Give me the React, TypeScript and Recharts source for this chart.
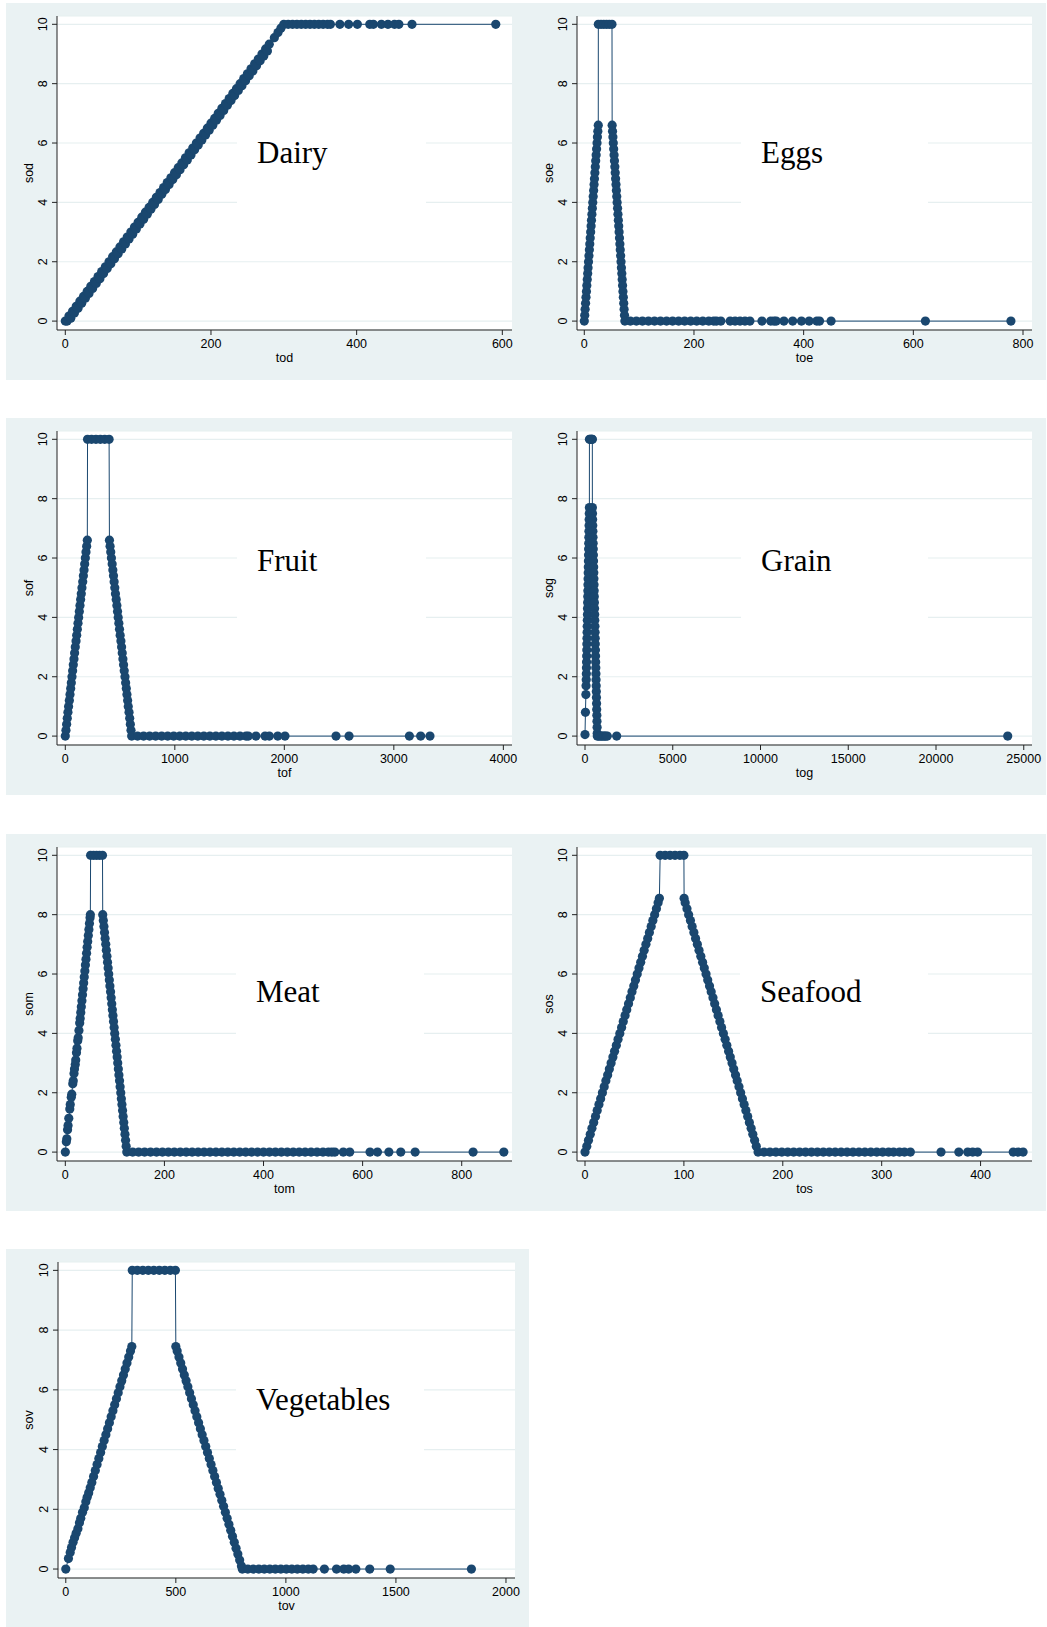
import React from 'react';
import { ScatterChart, Scatter, XAxis, YAxis, CartesianGrid, ReferenceArea } from 'recharts';

const NAVY = '#1a476f';
const PANEL_BG = '#eaf2f3';
const SANS = "'Liberation Sans', Arial, Helvetica, sans-serif";
const SERIF = "'Liberation Serif', 'Times New Roman', serif";

// [x, y] pairs (tod/sod, toe/soe, ...)
const dairyPoints: [number, number][] = [
  [0, 0], [2.5, 0], [5, 0.17], [7.5, 0.1], [10, 0.33], [12.5, 0.27], [15, 0.5], [17.5, 0.43], [20, 0.67], [22.5, 0.6],
  [25, 0.83], [27.5, 0.77], [30, 1], [32.5, 0.93], [35, 1.17], [37.5, 1.1], [40, 1.33], [42.5, 1.27], [45, 1.5], [47.5, 1.43],
  [50, 1.67], [52.5, 1.6], [55, 1.83], [57.5, 1.77], [60, 2], [62.5, 1.93], [65, 2.17], [67.5, 2.1], [70, 2.33], [72.5, 2.27],
  [75, 2.5], [77.5, 2.43], [80, 2.67], [82.5, 2.6], [85, 2.83], [87.5, 2.77], [90, 3], [92.5, 2.93], [95, 3.17], [97.5, 3.1],
  [100, 3.33], [102.5, 3.27], [105, 3.5], [107.5, 3.43], [110, 3.67], [112.5, 3.6], [115, 3.83], [117.5, 3.77], [120, 4], [122.5, 3.93],
  [125, 4.17], [127.5, 4.1], [130, 4.33], [132.5, 4.27], [135, 4.5], [137.5, 4.43], [140, 4.67], [142.5, 4.6], [145, 4.83], [147.5, 4.77],
  [150, 5], [152.5, 4.93], [155, 5.17], [157.5, 5.1], [160, 5.33], [162.5, 5.27], [165, 5.5], [167.5, 5.43], [170, 5.67], [172.5, 5.6],
  [175, 5.83], [177.5, 5.77], [180, 6], [182.5, 5.93], [185, 6.17], [187.5, 6.1], [190, 6.33], [192.5, 6.27], [195, 6.5], [197.5, 6.43],
  [200, 6.67], [202.5, 6.6], [205, 6.83], [207.5, 6.77], [210, 7], [212.5, 6.93], [215, 7.17], [217.5, 7.1], [220, 7.33], [222.5, 7.27],
  [225, 7.5], [227.5, 7.43], [230, 7.67], [232.5, 7.6], [235, 7.83], [237.5, 7.77], [240, 8], [242.5, 7.93], [245, 8.17], [247.5, 8.1],
  [250, 8.33], [252.5, 8.27], [255, 8.5], [257.5, 8.43], [260, 8.67], [262.5, 8.6], [265, 8.83], [267.5, 8.77], [270, 9], [272.5, 8.93],
  [275, 9.17], [277.5, 9.1], [280, 9.33], [287, 9.55], [292, 9.72], [296, 9.87],
  [300, 10], [306, 10], [312, 10], [318, 10], [324, 10], [330, 10], [336, 10], [342, 10], [348, 10], [354, 10], [360, 10], [364, 10],
  [377, 10], [389, 10], [401, 10], [418, 10], [423, 10], [434, 10], [443, 10], [452, 10], [458, 10], [476, 10], [591, 10],
];

const eggsPoints: [number, number][] = [
  [0, 0], [0.8, 0.2], [1.5, 0.4], [2.3, 0.6], [3.1, 0.8], [3.9, 1], [4.6, 1.2], [5.4, 1.4], [6.2, 1.6], [6.9, 1.8],
  [7.7, 2], [8.5, 2.2], [9.3, 2.4], [10, 2.6], [10.8, 2.8], [11.6, 3], [12.4, 3.2], [13.1, 3.4], [13.9, 3.6], [14.7, 3.8],
  [15.4, 4], [16.2, 4.2], [17, 4.4], [17.8, 4.6], [18.5, 4.8], [19.3, 5], [20.1, 5.2], [20.8, 5.4], [21.6, 5.6], [22.4, 5.8],
  [23.2, 6], [23.9, 6.2], [24.7, 6.4], [25.5, 6.6],
  [25.6, 10], [30.5, 10], [35.5, 10], [40.5, 10], [45.5, 10], [50.5, 10],
  [50.8, 6.6], [51.5, 6.4], [52.2, 6.2], [52.9, 6], [53.6, 5.8], [54.3, 5.6], [55, 5.4], [55.7, 5.2], [56.4, 5], [57.1, 4.8],
  [57.8, 4.6], [58.5, 4.4], [59.2, 4.2], [59.9, 4], [60.7, 3.8], [61.4, 3.6], [62.1, 3.4], [62.8, 3.2], [63.5, 3], [64.2, 2.8],
  [64.9, 2.6], [65.6, 2.4], [66.3, 2.2], [67, 2], [67.7, 1.8], [68.4, 1.6], [69.1, 1.4], [69.8, 1.2], [70.5, 1], [71.2, 0.8],
  [71.9, 0.6], [72.6, 0.4], [73.3, 0.2], [74, 0],
  [84, 0], [95, 0], [106, 0], [117, 0], [128, 0], [139, 0], [150, 0], [161, 0], [172, 0], [183, 0], [194, 0], [205, 0],
  [216, 0], [227, 0], [236, 0], [241, 0], [249, 0], [266, 0], [275, 0], [284, 0], [293, 0], [302, 0], [324, 0], [340, 0],
  [346, 0], [350, 0], [364, 0], [380, 0], [396, 0], [410, 0], [424, 0], [429, 0], [450, 0], [622, 0], [778, 0],
];

const fruitPoints: [number, number][] = [
  [0, 0], [6, 0.2], [12, 0.4], [18, 0.6], [24, 0.8], [30, 1], [37, 1.2], [43, 1.4], [49, 1.6], [55, 1.8],
  [61, 2], [67, 2.2], [73, 2.4], [79, 2.6], [85, 2.8], [91, 3], [98, 3.2], [104, 3.4], [110, 3.6], [116, 3.8],
  [122, 4], [128, 4.2], [134, 4.4], [140, 4.6], [146, 4.8], [152, 5], [159, 5.2], [165, 5.4], [171, 5.6], [177, 5.8],
  [183, 6], [189, 6.2], [195, 6.4], [201, 6.6],
  [203, 10], [240, 10], [280, 10], [320, 10], [360, 10], [400, 10],
  [403, 6.6], [409, 6.4], [415, 6.2], [421, 6], [428, 5.8], [434, 5.6], [440, 5.4], [446, 5.2], [452, 5], [458, 4.8],
  [465, 4.6], [471, 4.4], [477, 4.2], [483, 4], [489, 3.8], [495, 3.6], [501, 3.4], [508, 3.2], [514, 3], [520, 2.8],
  [526, 2.6], [532, 2.4], [538, 2.2], [545, 2], [551, 1.8], [557, 1.6], [563, 1.4], [569, 1.2], [575, 1], [582, 0.8],
  [588, 0.6], [594, 0.4], [600, 0.2], [606, 0],
  [660, 0], [715, 0], [770, 0], [825, 0], [880, 0], [935, 0], [990, 0], [1045, 0], [1100, 0], [1155, 0], [1210, 0],
  [1265, 0], [1320, 0], [1375, 0], [1430, 0], [1485, 0], [1540, 0], [1595, 0], [1650, 0], [1671, 0], [1741, 0],
  [1824, 0], [1863, 0], [1940, 0], [2006, 0], [2472, 0], [2591, 0], [3142, 0], [3245, 0], [3330, 0],
];

const grainPoints: [number, number][] = [
  [0, 0.05], [25, 0.8], [50, 1.4], [60, 1.7], [70, 1.9], [76, 2.1], [82, 2.3], [89, 2.5], [95, 2.7], [101, 2.9],
  [107, 3.1], [113, 3.3], [120, 3.5], [126, 3.7], [132, 3.9], [138, 4.1], [144, 4.3], [151, 4.5], [157, 4.7], [163, 4.9],
  [169, 5.1], [175, 5.3], [182, 5.5], [188, 5.7], [194, 5.9], [200, 6.1], [206, 6.3], [213, 6.5], [219, 6.7], [225, 6.9],
  [231, 7.1], [237, 7.3], [244, 7.5], [250, 7.7],
  [252, 10], [300, 10], [350, 10], [400, 10], [418, 10],
  [420, 7.7], [427, 7.5], [435, 7.3], [442, 7.1], [449, 6.9], [456, 6.7], [464, 6.5], [471, 6.3], [478, 6.1], [486, 5.9],
  [493, 5.7], [500, 5.5], [507, 5.3], [515, 5.1], [522, 4.9], [529, 4.7], [536, 4.5], [544, 4.3], [551, 4.1], [558, 3.9],
  [566, 3.7], [573, 3.5], [580, 3.3], [587, 3.1], [595, 2.9], [602, 2.7], [609, 2.5], [616, 2.3], [624, 2.1], [631, 1.9],
  [638, 1.7], [646, 1.5], [653, 1.3], [660, 1.1], [667, 0.9], [675, 0.7], [682, 0.5], [689, 0.3], [696, 0.1], [700, 0],
  [780, 0], [860, 0], [940, 0], [1020, 0], [1100, 0], [1180, 0], [1270, 0], [1805, 0], [24086, 0],
];

const meatPoints: [number, number][] = [
  [0, 0], [2, 0.35], [3, 0.45], [4.5, 0.75], [5.5, 0.9], [7, 1.14], [9, 1.45], [10, 1.6], [12, 1.85], [13, 1.95],
  [15, 2.3], [16, 2.4], [17.5, 2.65], [18.5, 2.8], [20, 2.95], [21, 3.1], [22.5, 3.35], [23.5, 3.5], [25, 3.75], [26, 3.85],
  [27.5, 4.1], [29, 4.35], [30, 4.5], [31.2, 4.7], [32.3, 4.9], [33.5, 5.1], [34.7, 5.3], [35.9, 5.5], [37, 5.7], [38.2, 5.9],
  [39.4, 6.1], [40.5, 6.3], [41.7, 6.5], [42.9, 6.7], [44, 6.9], [45.2, 7.1], [46.4, 7.3], [47.6, 7.5], [48.7, 7.7], [49.9, 7.9],
  [50.5, 8],
  [51, 10], [57, 10], [63, 10], [69, 10], [75, 10],
  [75.5, 8], [76.7, 7.8], [77.9, 7.6], [79.1, 7.4], [80.3, 7.2], [81.6, 7], [82.8, 6.8], [84, 6.6], [85.2, 6.4], [86.4, 6.2],
  [87.6, 6], [88.8, 5.8], [90, 5.6], [91.3, 5.4], [92.5, 5.2], [93.7, 5], [94.9, 4.8], [96.1, 4.6], [97.3, 4.4], [98.5, 4.2],
  [99.7, 4], [101, 3.8], [102.2, 3.6], [103.4, 3.4], [104.6, 3.2], [105.8, 3], [107, 2.8], [108.2, 2.6], [109.4, 2.4], [110.6, 2.2],
  [111.9, 2], [113.1, 1.8], [114.3, 1.6], [115.5, 1.4], [116.7, 1.2], [117.9, 1], [119.1, 0.8], [120.4, 0.6], [121.6, 0.4], [122.8, 0.2],
  [124, 0],
  [136, 0], [148, 0], [160, 0], [172, 0], [184, 0], [196, 0], [208, 0], [220, 0], [232, 0], [244, 0], [256, 0], [268, 0],
  [280, 0], [292, 0], [304, 0], [316, 0], [328, 0], [340, 0], [352, 0], [364, 0], [376, 0], [388, 0], [400, 0], [412, 0],
  [424, 0], [436, 0], [448, 0], [460, 0], [472, 0], [484, 0], [496, 0], [508, 0], [520, 0], [531, 0], [538, 0], [544, 0],
  [561, 0], [574, 0], [615, 0], [630, 0], [653, 0], [677, 0], [706, 0], [823, 0], [885, 0],
];

const seafoodPoints: [number, number][] = [
  [0, 0], [1.8, 0.2], [3.5, 0.4], [5.3, 0.6], [7, 0.8], [8.8, 1], [10.6, 1.2], [12.3, 1.4], [14.1, 1.6], [15.8, 1.8],
  [17.6, 2], [19.4, 2.2], [21.1, 2.4], [22.9, 2.6], [24.6, 2.8], [26.4, 3], [28.2, 3.2], [29.9, 3.4], [31.7, 3.6], [33.4, 3.8],
  [35.2, 4], [37, 4.2], [38.7, 4.4], [40.5, 4.6], [42.2, 4.8], [44, 5], [45.8, 5.2], [47.5, 5.4], [49.3, 5.6], [51, 5.8],
  [52.8, 6], [54.6, 6.2], [56.3, 6.4], [58.1, 6.6], [59.8, 6.8], [61.6, 7], [63.4, 7.2], [65.1, 7.4], [66.9, 7.6], [68.6, 7.8],
  [70.4, 8], [72.2, 8.2], [73.9, 8.4], [75.2, 8.55],
  [76, 10], [81, 10], [86, 10], [91, 10], [96, 10], [100, 10],
  [100.2, 8.55], [101.3, 8.4], [103.1, 8.2], [104.8, 8], [106.6, 7.8], [108.3, 7.6], [110.1, 7.4], [111.8, 7.2], [113.6, 7], [115.3, 6.8],
  [117.1, 6.6], [118.9, 6.4], [120.6, 6.2], [122.4, 6], [124.1, 5.8], [125.9, 5.6], [127.6, 5.4], [129.4, 5.2], [131.1, 5], [132.9, 4.8],
  [134.6, 4.6], [136.4, 4.4], [138.1, 4.2], [139.9, 4], [141.7, 3.8], [143.4, 3.6], [145.2, 3.4], [146.9, 3.2], [148.7, 3], [150.4, 2.8],
  [152.2, 2.6], [153.9, 2.4], [155.7, 2.2], [157.4, 2], [159.2, 1.8], [160.9, 1.6], [162.7, 1.4], [164.5, 1.2], [166.2, 1], [168, 0.8],
  [169.7, 0.6], [171.5, 0.4], [173.2, 0.2], [175, 0],
  [181, 0], [187, 0], [193, 0], [199, 0], [205, 0], [211, 0], [217, 0], [223, 0], [229, 0], [235, 0], [241, 0], [247, 0],
  [253, 0], [259, 0], [265, 0], [271, 0], [277, 0], [283, 0], [289, 0], [295, 0], [301, 0], [307, 0], [312, 0], [318, 0],
  [323, 0], [329, 0], [360, 0], [378, 0], [387, 0], [392, 0], [397, 0], [433, 0], [438, 0], [443, 0],
];

const vegetablesPoints: [number, number][] = [
  [0, 0], [12, 0.35], [20, 0.55], [26, 0.72], [33, 0.9], [40, 1.05], [47, 1.2], [55, 1.35], [62, 1.55], [68, 1.7],
  [76, 1.9], [84, 2.05], [91, 2.25], [97, 2.4], [104, 2.55], [111, 2.72], [118.2, 2.9], [126.2, 3.1], [134.2, 3.3], [142.2, 3.5],
  [150.2, 3.7], [158.2, 3.9], [166.1, 4.1], [174.1, 4.3], [182.1, 4.5], [190.1, 4.7], [198.1, 4.9], [206.1, 5.1], [214.1, 5.3], [222.1, 5.5],
  [230.1, 5.7], [238.1, 5.9], [246.1, 6.1], [254.1, 6.3], [262, 6.5], [270, 6.7], [278, 6.9], [286, 7.1], [294, 7.3], [300, 7.45],
  [302, 10], [325, 10], [350, 10], [375, 10], [400, 10], [425, 10], [450, 10], [475, 10], [498, 10],
  [500, 7.45], [506.1, 7.3], [514.2, 7.1], [522.3, 6.9], [530.4, 6.7], [538.5, 6.5], [546.6, 6.3], [554.7, 6.1], [562.8, 5.9], [570.9, 5.7],
  [579.1, 5.5], [587.2, 5.3], [595.3, 5.1], [603.4, 4.9], [611.5, 4.7], [619.6, 4.5], [627.7, 4.3], [635.8, 4.1], [643.9, 3.9], [652, 3.7],
  [660.1, 3.5], [668.2, 3.3], [676.3, 3.1], [684.5, 2.9], [692.6, 2.7], [700.7, 2.5], [708.8, 2.3], [716.9, 2.1], [725, 1.9], [733.1, 1.7],
  [741.2, 1.5], [749.3, 1.3], [757.4, 1.1], [765.5, 0.9], [773.6, 0.7], [781.7, 0.5], [789.9, 0.3], [798, 0.1], [802, 0],
  [827, 0], [852, 0], [877, 0], [902, 0], [927, 0], [952, 0], [977, 0], [1002, 0], [1027, 0], [1052, 0], [1077, 0],
  [1102, 0], [1124, 0], [1175, 0], [1230, 0], [1263, 0], [1285, 0], [1318, 0], [1381, 0], [1474, 0], [1843, 0],
];

const yTicks = [0, 2, 4, 6, 8, 10];
const dairyTicks = [0, 200, 400, 600];
const eggsTicks = [0, 200, 400, 600, 800];
const fruitTicks = [0, 1000, 2000, 3000, 4000];
const grainTicks = [0, 5000, 10000, 15000, 20000, 25000];
const meatTicks = [0, 200, 400, 600, 800];
const seafoodTicks = [0, 100, 200, 300, 400];
const vegetablesTicks = [0, 500, 1000, 1500, 2000];

const Y_DOMAIN: [number, number] = [-0.3, 10.28];

const panels = [
  { name: 'Dairy', xLabel: 'tod', yLabel: 'sod', points: dairyPoints, xTicks: dairyTicks, xDomain: [-11.4, 613.3], left: 6, top: 3, width: 520, height: 377, axisW: 51, right: 14, boxLeft: 180, boxRight: 369, labelY: 5.32 },
  { name: 'Eggs', xLabel: 'toe', yLabel: 'soe', points: eggsPoints, xTicks: eggsTicks, xDomain: [-13.3, 816.4], left: 526, top: 3, width: 520, height: 377, axisW: 51, right: 14, boxLeft: 164, boxRight: 351, labelY: 5.32 },
  { name: 'Fruit', xLabel: 'tof', yLabel: 'sof', points: fruitPoints, xTicks: fruitTicks, xDomain: [-75.8, 4079], left: 6, top: 418, width: 520, height: 377, axisW: 51, right: 14, boxLeft: 180, boxRight: 369, labelY: 5.56 },
  { name: 'Grain', xLabel: 'tog', yLabel: 'sog', points: grainPoints, xTicks: grainTicks, xDomain: [-456, 25470], left: 526, top: 418, width: 520, height: 377, axisW: 51, right: 14, boxLeft: 164, boxRight: 351, labelY: 5.56 },
  { name: 'Meat', xLabel: 'tom', yLabel: 'som', points: meatPoints, xTicks: meatTicks, xDomain: [-16.8, 901.5], left: 6, top: 834, width: 520, height: 377, axisW: 51, right: 14, boxLeft: 179, boxRight: 367, labelY: 5.05 },
  { name: 'Seafood', xLabel: 'tos', yLabel: 'sos', points: seafoodPoints, xTicks: seafoodTicks, xDomain: [-8.1, 452], left: 526, top: 834, width: 520, height: 377, axisW: 51, right: 14, boxLeft: 163, boxRight: 351, labelY: 5.05 },
  { name: 'Vegetables', xLabel: 'tov', yLabel: 'sov', points: vegetablesPoints, xTicks: vegetablesTicks, xDomain: [-35.4, 2041], left: 6, top: 1249, width: 523, height: 379, axisW: 52, right: 14, boxLeft: 178, boxRight: 366, labelY: 5.33 },
];

const YTick = (props: any) => {
  const { x, y, payload } = props;
  return (
    <text
      x={x}
      y={y}
      transform={`rotate(-90 ${x} ${y})`}
      textAnchor="middle"
      fontSize={12.5}
      fontFamily={SANS}
      fill="#000"
    >
      {payload.value}
    </text>
  );
};

const Marker = (props: any) => <circle cx={props.cx} cy={props.cy} r={4.6} fill={NAVY} />;

const BoxText = (props: any) => {
  const { viewBox, text } = props;
  if (!viewBox) return null;
  return (
    <text x={viewBox.x + 20} y={viewBox.y + viewBox.height * 0.45} fontFamily={SERIF} fontSize={31} fill="#000">
      {text}
    </text>
  );
};

const Panel: React.FC<{ p: (typeof panels)[number] }> = ({ p }) => {
  const data = p.points.map(([x, y]) => ({ x, y }));
  const plotW = p.width - p.axisW - p.right;
  const toX = (px: number) => p.xDomain[0] + (px / plotW) * (p.xDomain[1] - p.xDomain[0]);

  return (
    <div style={{ position: 'absolute', left: p.left, top: p.top, width: p.width, height: p.height, background: PANEL_BG }}>
      <ScatterChart width={p.width} height={p.height} margin={{ top: 13, right: p.right, bottom: 0, left: 0 }}>
        <CartesianGrid vertical={false} stroke="#e6eff0" strokeWidth={1.2} fill="#ffffff" fillOpacity={1} />
        <XAxis
          type="number"
          dataKey="x"
          domain={p.xDomain}
          ticks={p.xTicks}
          allowDataOverflow
          interval={0}
          height={50}
          tickSize={5}
          tickMargin={4}
          stroke="#222"
          tick={{ fontSize: 12.5, fill: '#000', fontFamily: SANS }}
          label={{ value: p.xLabel, position: 'insideBottom', offset: 18, fontSize: 12.5, fill: '#000', fontFamily: SANS }}
        />
        <YAxis
          type="number"
          dataKey="y"
          domain={Y_DOMAIN}
          ticks={yTicks}
          allowDataOverflow
          interval={0}
          width={p.axisW}
          tickSize={5}
          tickMargin={5}
          stroke="#222"
          tick={<YTick />}
          label={{
            value: p.yLabel,
            angle: -90,
            position: 'insideLeft',
            offset: 23,
            fontSize: 12.5,
            fill: '#000',
            fontFamily: SANS,
            style: { textAnchor: 'middle' },
          }}
        />
        <ReferenceArea
          x1={toX(p.boxLeft)}
          x2={toX(p.boxRight)}
          y1={p.labelY - 2.2}
          y2={p.labelY + 1.8}
          fill="#ffffff"
          fillOpacity={1}
          stroke="none"
          label={<BoxText text={p.name} />}
        />
        <Scatter
          data={data}
          fill={NAVY}
          line={{ stroke: NAVY, strokeWidth: 1 }}
          lineType="joint"
          shape={<Marker />}
          isAnimationActive={false}
        />
      </ScatterChart>
    </div>
  );
};

const App: React.FC = () => {
  return (
    <div style={{ position: 'relative', width: 1047, height: 1627, overflow: 'hidden', background: '#ffffff' }}>
      <style>{'body { margin: 0; }'}</style>
      {panels.map((p) => (
        <Panel key={p.name} p={p} />
      ))}
    </div>
  );
};

export default App;
